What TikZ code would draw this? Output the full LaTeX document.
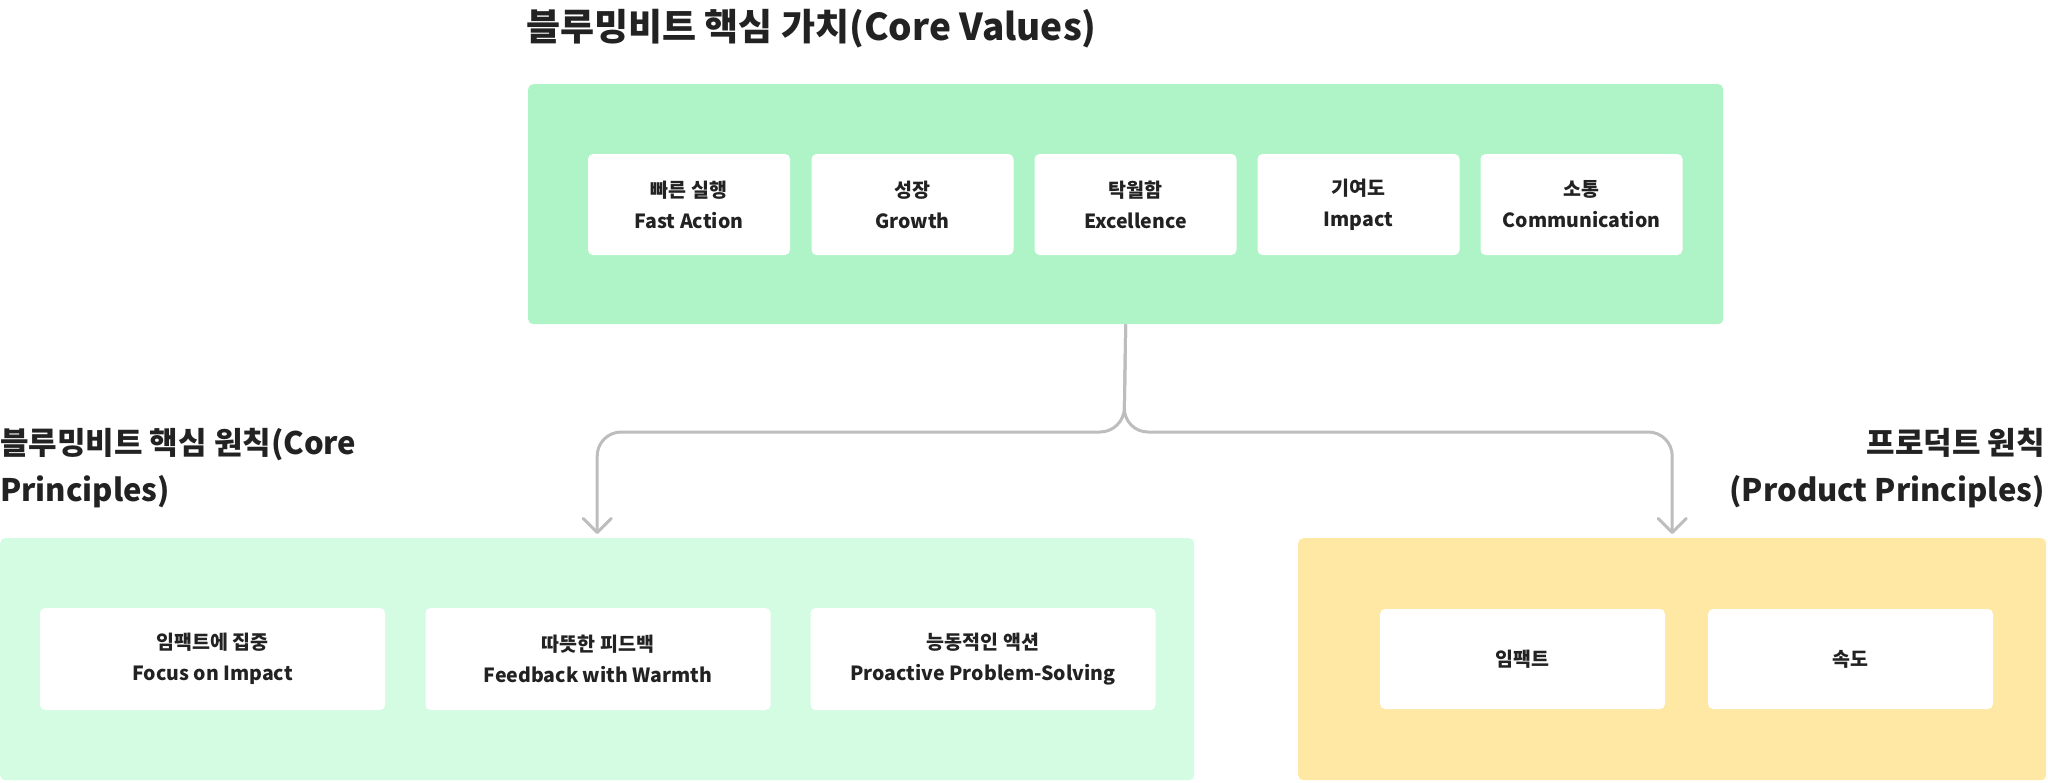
\documentclass[tikz,border=0pt]{standalone}
\usepackage{fontspec}
\setmainfont{Noto Sans CJK KR}
\usetikzlibrary{arrows.meta}
\definecolor{coregreen}{HTML}{AEF4C6}
\definecolor{palegreen}{HTML}{D3FCE2}
\definecolor{productyellow}{HTML}{FEE8A3}
\definecolor{linkgray}{HTML}{BDBDBD}
\definecolor{inkdark}{HTML}{222222}
\tikzset{
  group box/.style={rounded corners=5pt, inner sep=0pt, anchor=north west},
  item box/.style={fill=white, rounded corners=5pt, inner sep=0pt, align=center,
    text=inkdark, font=\fontsize{19.5}{31}\selectfont\bfseries},
  heading/.style={inner sep=0pt, text=inkdark, font=\fontsize{31}{47}\selectfont\bfseries},
  link/.style={draw=linkgray, line width=3pt, rounded corners=24pt,
    -{Straight Barb[length=14pt, width=28pt, round]}, shorten >=4pt},
}

\begin{document}
\begin{tikzpicture}[x=1pt, y=-1pt]
  \useasboundingbox (0,0) rectangle (2048,782);
  % groups
  \node[group box, fill=coregreen, minimum width=1195pt, minimum height=240pt] (core) at (528,84) {};
  \node[group box, fill=palegreen, minimum width=1194pt, minimum height=242pt] (principles) at (0,538) {};
  \node[group box, fill=productyellow, minimum width=748pt, minimum height=242pt] (product) at (1298,538) {};
  % headings
  \node[heading, anchor=west, font=\fontsize{37}{47}\selectfont\bfseries] (coretitle) at (526,29) {블루밍비트 핵심 가치(Core Values)};
  \node[heading, anchor=west, align=left] (principlestitle) at (0,468) {블루밍비트 핵심 원칙(Core\\Principles)};
  \node[heading, anchor=east, align=right] (producttitle) at (2045,468) {프로덕트 원칙\\(Product Principles)};
  % core values
  \node[item box, minimum width=202pt, minimum height=101pt] (fast) at (689,204.5) {빠른 실행\\Fast Action};
  \node[item box, minimum width=202pt, minimum height=101pt] (growth) at (912.5,204.5) {성장\\Growth};
  \node[item box, minimum width=202pt, minimum height=101pt] (excel) at (1135.5,204.5) {탁월함\\Excellence};
  \node[item box, minimum width=202pt, minimum height=101pt] (impact) at (1358.5,204.5) {기여도\\Impact};
  \node[item box, minimum width=202pt, minimum height=101pt] (comm) at (1581.5,204.5) {소통\\Communication};
  % core principles
  \node[item box, minimum width=345pt, minimum height=102pt] (focus) at (212.5,659) {임팩트에 집중\\Focus on Impact};
  \node[item box, minimum width=345pt, minimum height=102pt] (feedback) at (598,659) {따뜻한 피드백\\Feedback with Warmth};
  \node[item box, minimum width=345pt, minimum height=102pt] (proactive) at (983,659) {능동적인 액션\\Proactive Problem-Solving};
  % product principles
  \node[item box, minimum width=285pt, minimum height=100pt] (pimpact) at (1522.5,659) {임팩트};
  \node[item box, minimum width=285pt, minimum height=100pt] (speed) at (1850.5,659) {속도};
  % links
  \coordinate (split) at (1124,432);
  \draw[link] (core.south) -- (split) -| (principles.north);
  \draw[link] (core.south) -- (split) -| (product.north);
\end{tikzpicture}
\end{document}
